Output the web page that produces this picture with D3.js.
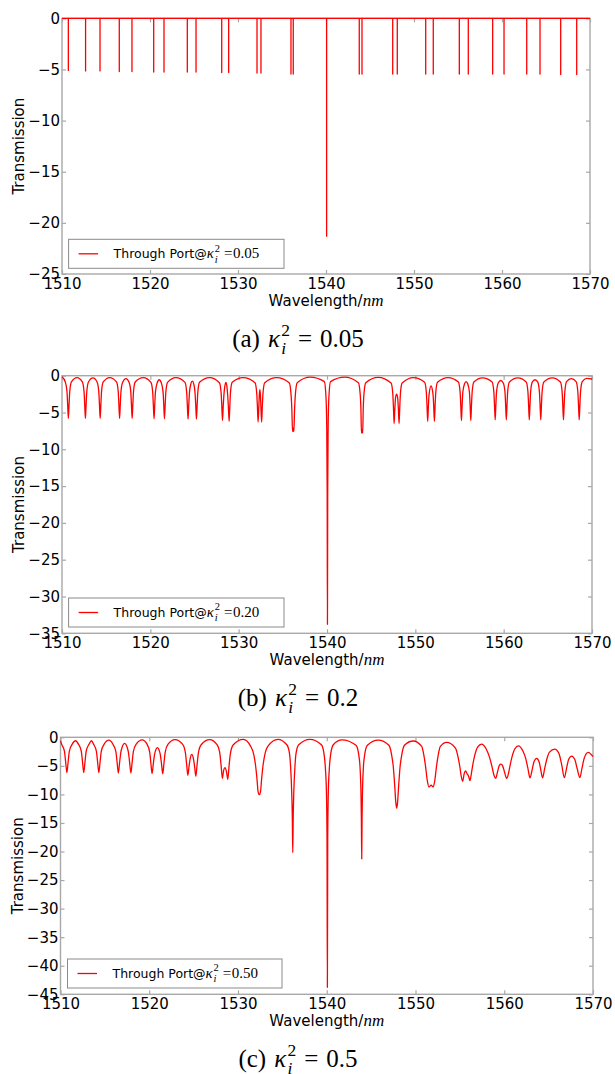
<!DOCTYPE html>
<html>
<head>
<meta charset="utf-8">
<script src="https://cdn.jsdelivr.net/npm/d3@7"></script>
<style>
  html, body { margin: 0; padding: 0; background: #fff; }
  svg { display: block; }
</style>
</head>
<body>
<script>
// ---------------- DATA ----------------
const xTicks = [1510, 1520, 1530, 1540, 1550, 1560, 1570];
const yTicksA = [0, -5, -10, -15, -20, -25];
const yTicksB = [0, -5, -10, -15, -20, -25, -30, -35];
const yTicksC = [0, -5, -10, -15, -20, -25, -30, -35, -40, -45];
const legendKappa = ["0.05", "0.20", "0.50"];
const captionLetter = ["(a)", "(b)", "(c)"];
const captionKappa = ["0.05", "0.2", "0.5"];

// Panel (a): resonance dips on a 0 dB baseline (wavelength nm, minimum dB)
const dipWlA = [1510.72, 1512.68, 1514.32, 1516.51, 1517.95, 1520.42, 1521.59, 1524.24, 1525.23, 1528.15,
                1528.94, 1532.16, 1532.61, 1536.02, 1536.28, 1540.07, 1543.78, 1544.09, 1547.58, 1548.10,
                1551.33, 1552.19, 1555.15, 1556.17, 1558.94, 1560.23, 1562.81, 1564.32, 1566.67, 1568.49];
const dipMinA = [-5.1, -5.15, -5.15, -5.2, -5.2, -5.25, -5.25, -5.25, -5.25, -5.3,
                 -5.3, -5.35, -5.35, -5.45, -5.45, -21.3, -5.45, -5.45, -5.45, -5.45,
                 -5.45, -5.45, -5.45, -5.45, -5.45, -5.45, -5.45, -5.45, -5.5, -5.5];
const baselineA = 0;

// Panel (b): traced curve points [wavelength, transmission dB]
const curveB = [
 [1510,-0.15],
 [1510.37,-0.85],[1510.56,-2.1],[1510.64,-3.9],[1510.72,-5.8],[1510.8,-3.9],[1510.88,-2.1],[1511.07,-0.85],
 [1511.7,-0.27],
 [1512.3,-0.85],[1512.49,-2.1],[1512.57,-3.9],[1512.65,-5.8],[1512.73,-3.9],[1512.81,-2.1],[1513.0,-0.85],
 [1513.5,-0.3],
 [1513.97,-0.85],[1514.16,-2.1],[1514.24,-3.9],[1514.32,-5.8],[1514.4,-3.9],[1514.48,-2.1],[1514.67,-0.85],
 [1515.4,-0.25],
 [1516.17,-0.85],[1516.36,-2.1],[1516.44,-3.9],[1516.52,-5.8],[1516.6,-3.9],[1516.68,-2.1],[1516.87,-0.9],
 [1517.23,-0.4],
 [1517.59,-0.9],[1517.78,-2.1],[1517.86,-3.9],[1517.94,-5.8],[1518.02,-3.9],[1518.1,-2.1],[1518.29,-0.85],
 [1519.2,-0.25],
 [1520.07,-0.9],[1520.26,-2.15],[1520.34,-3.95],[1520.42,-5.85],[1520.5,-3.95],[1520.58,-2.2],[1520.77,-1.0],
 [1521.01,-0.55],
 [1521.25,-1.0],[1521.44,-2.2],[1521.52,-3.95],[1521.6,-5.85],[1521.68,-3.95],[1521.76,-2.15],[1521.95,-0.9],
 [1522.9,-0.25],
 [1523.92,-0.9],[1524.11,-2.2],[1524.19,-4.0],[1524.27,-5.9],[1524.35,-4.0],[1524.43,-2.3],[1524.58,-1.15],
 [1524.75,-0.75],
 [1524.92,-1.15],[1525.06,-2.3],[1525.14,-4.0],[1525.22,-5.9],[1525.3,-4.0],[1525.38,-2.2],[1525.57,-0.9],
 [1526.7,-0.25],
 [1527.82,-0.95],[1528.01,-2.3],[1528.09,-4.1],[1528.17,-6.1],[1528.25,-4.2],[1528.33,-2.6],[1528.45,-1.3],
 [1528.55,-0.9],
 [1528.65,-1.3],[1528.76,-2.7],[1528.84,-4.3],[1528.92,-6.2],[1529.0,-4.1],[1529.08,-2.2],[1529.27,-0.9],
 [1530.5,-0.25],
 [1531.85,-0.95],[1532.04,-2.3],[1532.12,-4.1],[1532.2,-6.3],[1532.28,-4.3],[1532.34,-2.6],[1532.4,-1.9],
 [1532.46,-2.6],[1532.52,-4.3],[1532.6,-6.3],[1532.68,-4.1],[1532.76,-2.3],[1532.95,-0.95],
 [1534.3,-0.25],
 [1535.72,-0.95],[1535.92,-2.4],[1536.02,-4.6],[1536.1,-7.6],[1536.17,-7.1],[1536.25,-7.6],[1536.33,-4.6],[1536.43,-2.4],[1536.63,-0.95],
 [1538.1,-0.2],
 [1539.7,-0.8],[1539.89,-3.0],[1539.97,-7.0],[1540.02,-16],[1540.05,-33.8],[1540.08,-16],[1540.13,-7.0],[1540.21,-3.0],[1540.4,-0.8],
 [1542.0,-0.2],
 [1543.55,-0.95],[1543.75,-2.4],[1543.84,-4.6],[1543.9,-7.8],[1543.97,-7.3],[1544.04,-7.8],[1544.1,-4.6],[1544.19,-2.4],[1544.39,-0.95],
 [1545.8,-0.22],
 [1547.25,-1.0],[1547.44,-2.3],[1547.52,-4.2],[1547.6,-6.5],[1547.68,-4.5],[1547.76,-3.0],[1547.88,-2.5],
 [1548.0,-3.0],[1548.08,-4.5],[1548.16,-6.5],[1548.24,-4.2],[1548.32,-2.3],[1548.51,-1.0],
 [1549.8,-0.25],
 [1551.05,-0.9],[1551.24,-2.2],[1551.32,-4.0],[1551.4,-6.2],[1551.48,-4.1],[1551.56,-2.5],[1551.78,-1.4],
 [1552.0,-2.5],[1552.08,-4.1],[1552.16,-6.2],[1552.24,-4.0],[1552.32,-2.2],[1552.51,-0.9],
 [1553.7,-0.25],
 [1554.87,-0.85],[1555.06,-2.1],[1555.14,-3.9],[1555.22,-6.1],[1555.3,-3.95],[1555.38,-2.2],[1555.57,-1.1],[1555.75,-0.8],
 [1555.93,-1.1],[1556.12,-2.2],[1556.2,-3.95],[1556.28,-6.1],[1556.36,-3.9],[1556.44,-2.1],[1556.63,-0.85],
 [1557.6,-0.3],
 [1558.69,-0.85],[1558.88,-2.1],[1558.96,-3.9],[1559.04,-6.0],[1559.12,-3.9],[1559.2,-2.1],[1559.4,-0.95],[1559.67,-0.65],
 [1559.94,-0.95],[1560.14,-2.1],[1560.22,-3.9],[1560.3,-6.0],[1560.38,-3.9],[1560.46,-2.1],[1560.65,-0.85],
 [1561.6,-0.3],
 [1562.55,-0.85],[1562.74,-2.1],[1562.82,-3.9],[1562.9,-6.0],[1562.98,-3.9],[1563.06,-2.1],[1563.25,-0.85],[1563.55,-0.55],
 [1563.85,-0.85],[1564.04,-2.1],[1564.12,-3.9],[1564.2,-6.0],[1564.28,-3.9],[1564.36,-2.1],[1564.55,-0.85],
 [1565.5,-0.3],
 [1566.42,-0.85],[1566.61,-2.1],[1566.69,-3.9],[1566.77,-6.0],[1566.85,-3.9],[1566.93,-2.1],[1567.12,-0.8],[1567.66,-0.4],
 [1568.2,-0.8],[1568.39,-2.1],[1568.47,-3.9],[1568.55,-6.0],[1568.63,-3.9],[1568.71,-2.1],[1568.9,-0.8],
 [1569.4,-0.35],[1570,-0.45]
];

// Panel (c): traced curve points [wavelength, transmission dB]
const curveC = [
 [1510,-0.6],
 [1510.12,-1.2],[1510.44,-2.4],[1510.58,-4.3],[1510.72,-6.2],[1510.86,-4.3],[1511.0,-2.4],[1511.32,-1.2],
 [1511.7,-0.6],
 [1512.02,-1.2],[1512.34,-2.4],[1512.48,-4.3],[1512.62,-6.2],[1512.76,-4.3],[1512.9,-2.4],[1513.22,-1.2],
 [1513.5,-0.6],
 [1513.72,-1.2],[1514.04,-2.4],[1514.18,-4.3],[1514.32,-6.2],[1514.46,-4.3],[1514.6,-2.4],[1514.92,-1.2],
 [1515.45,-0.5],
 [1515.92,-1.25],[1516.24,-2.5],[1516.38,-4.4],[1516.52,-6.25],[1516.66,-4.4],[1516.8,-2.6],[1517.0,-1.5],
 [1517.22,-1.06],
 [1517.45,-1.5],[1517.65,-2.6],[1517.79,-4.4],[1517.93,-6.25],[1518.07,-4.4],[1518.21,-2.5],[1518.53,-1.2],
 [1519.2,-0.45],
 [1519.75,-1.2],[1520.05,-2.6],[1520.18,-4.5],[1520.32,-6.35],[1520.46,-4.6],[1520.6,-3.0],[1520.78,-2.05],
 [1520.92,-1.8],
 [1521.06,-2.05],[1521.24,-3.0],[1521.38,-4.6],[1521.52,-6.4],[1521.66,-4.5],[1521.8,-2.6],[1522.12,-1.2],
 [1522.9,-0.4],
 [1523.75,-1.2],[1524.07,-2.7],[1524.21,-4.7],[1524.35,-6.65],[1524.49,-5.0],[1524.63,-3.6],
 [1524.8,-3.0],
 [1524.97,-3.7],[1525.11,-5.1],[1525.25,-6.8],[1525.39,-4.8],[1525.53,-2.8],[1525.85,-1.3],
 [1526.8,-0.4],
 [1527.64,-1.3],[1527.96,-2.9],[1528.1,-5.0],[1528.24,-7.2],[1528.38,-5.8],
 [1528.54,-5.3],
 [1528.7,-6.0],[1528.85,-7.35],[1528.99,-5.1],[1529.13,-3.0],[1529.45,-1.35],
 [1530.6,-0.35],
 [1531.4,-1.5],[1531.8,-3.2],[1532.0,-5.2],[1532.15,-7.5],[1532.27,-9.6],[1532.4,-10.05],[1532.53,-9.6],[1532.65,-7.5],[1532.8,-5.2],[1533.0,-3.2],[1533.4,-1.5],
 [1534.5,-0.35],
 [1535.5,-1.3],[1535.8,-2.8],[1535.92,-5],[1536.06,-10],[1536.12,-14],[1536.17,-20.2],[1536.22,-14],[1536.28,-10],[1536.42,-5],[1536.54,-2.8],[1536.84,-1.3],
 [1538.1,-0.35],
 [1539.4,-1.3],[1539.7,-3.0],[1539.85,-5.5],[1539.97,-10],[1540.03,-18],[1540.07,-43.8],[1540.11,-18],[1540.17,-10],[1540.29,-5.5],[1540.44,-3.0],[1540.74,-1.3],
 [1541.7,-0.45],
 [1543.3,-1.4],[1543.6,-3.0],[1543.76,-5.5],[1543.86,-10],[1543.9,-14],[1543.94,-21.3],[1543.98,-14],[1544.02,-10],[1544.12,-5.5],[1544.28,-3.0],[1544.58,-1.4],
 [1545.8,-0.5],
 [1547.0,-1.4],[1547.3,-3.0],[1547.5,-5.2],[1547.66,-8.5],[1547.78,-11.4],[1547.88,-12.4],[1547.98,-11.4],[1548.1,-8.5],[1548.26,-5.2],[1548.46,-3.0],[1548.76,-1.4],
 [1549.75,-0.65],
 [1550.7,-1.6],[1550.95,-3.2],[1551.15,-5.3],[1551.33,-7.6],[1551.52,-8.7],[1551.76,-8.4],[1552.0,-8.7],[1552.17,-7.6],[1552.35,-5.3],[1552.55,-3.2],[1552.8,-1.6],
 [1553.5,-0.9],
 [1554.5,-1.9],[1554.8,-3.5],[1555.0,-5.2],[1555.15,-6.8],[1555.31,-7.7],[1555.48,-6.4],[1555.65,-5.9],[1555.82,-6.4],[1555.98,-6.8],[1556.14,-7.6],
 [1556.3,-6.3],[1556.48,-4.6],[1556.7,-3.0],[1557.0,-1.7],
 [1557.45,-1.2],
 [1557.95,-2.0],[1558.3,-3.3],[1558.6,-5.0],[1558.85,-6.7],[1559.03,-7.2],[1559.25,-6.0],[1559.45,-4.9],[1559.63,-4.7],[1559.82,-5.0],
 [1560.05,-6.2],[1560.27,-7.2],[1560.45,-6.5],[1560.7,-4.6],[1560.95,-3.0],[1561.2,-2.0],
 [1561.6,-1.5],
 [1562.1,-2.4],[1562.4,-3.6],[1562.65,-5.3],[1562.9,-7.1],[1563.1,-6.0],[1563.35,-4.3],[1563.65,-3.7],[1563.95,-4.4],[1564.15,-6.0],
 [1564.32,-7.1],[1564.55,-5.5],[1564.8,-3.8],[1565.1,-2.6],
 [1565.7,-2.06],
 [1566.15,-2.8],[1566.45,-4.6],[1566.77,-7.06],[1567.0,-5.6],[1567.25,-3.9],[1567.59,-3.3],[1567.95,-3.9],[1568.22,-5.5],
 [1568.52,-7.06],[1568.75,-5.5],[1569.0,-3.7],[1569.46,-2.65],[1570,-3.4]
];

// ---------------- DRAWING ----------------
const W = 615, H = 1074;
const svg = d3.select("body").append("svg").attr("width", W).attr("height", H)
  .attr("viewBox", `0 0 ${W} ${H}`);
svg.append("rect").attr("width", W).attr("height", H).attr("fill", "#fff");

const SANS = "'DejaVu Sans', sans-serif";
const SERIF = "'Liberation Serif', 'DejaVu Serif', serif";
const FRAME = "#a8a8a8";

// build panel (a) path points from dips on its baseline
const pointsA = [[1510, baselineA]];
dipWlA.forEach((w, i) => { pointsA.push([w, baselineA], [w, dipMinA[i]], [w, baselineA]); });
pointsA.push([1570, baselineA]);

const panels = [
  { left: 62, right: 590, top: 18.3, bottom: 274, yMin: -25, yTicks: yTicksA, data: pointsA, curve: d3.curveLinear,
    leg: { x: 68.6, y: 239.3, w: 215.4, h: 29 }, ylabX: 19 },
  { left: 62, right: 592, top: 375.7, bottom: 633.3, yMin: -35, yTicks: yTicksB, data: curveB, curve: d3.curveMonotoneX,
    leg: { x: 68.6, y: 598, w: 215.4, h: 29 }, ylabX: 19 },
  { left: 60.5, right: 593, top: 737.3, bottom: 994.3, yMin: -45, yTicks: yTicksC, data: curveC, curve: d3.curveMonotoneX,
    leg: { x: 67.5, y: 959, w: 214.5, h: 29 }, ylabX: 17.5 }
];

function kappaText(sel, fs, value, eqText, lead, eqGap) {
  // κ_i^2 with stacked sub/superscript, then "= value"
  sel.append("tspan").attr("font-family", SERIF).attr("font-style", "italic").attr("font-size", fs)
    .attr("dx", lead).text("κ");
  const sup = sel.append("tspan").attr("font-family", SERIF).attr("font-size", fs * 0.7)
    .attr("dx", fs * 0.05).attr("dy", -fs * 0.45).text("2");
  const supW = sup.node().getComputedTextLength();
  const sub = sel.append("tspan").attr("font-family", SERIF).attr("font-style", "italic")
    .attr("font-size", fs * 0.7).attr("dx", -supW).attr("dy", fs * 0.45 + fs * 0.28).text("i");
  const subW = sub.node().getComputedTextLength();
  sel.append("tspan").attr("font-family", SERIF).attr("font-size", fs).attr("dy", -fs * 0.28)
    .attr("dx", Math.max(0, supW - subW) + eqGap[0]).text(eqText);
  sel.append("tspan").attr("font-family", SERIF).attr("font-size", fs)
    .attr("dx", eqGap[1]).text(value);
}

panels.forEach((p, idx) => {
  const g = svg.append("g");
  const x = d3.scaleLinear().domain([1510, 1570]).range([p.left, p.right]);
  const y = d3.scaleLinear().domain([p.yMin, 0]).range([p.bottom, p.top]);

  // frame
  g.append("rect").attr("x", p.left).attr("y", p.top)
    .attr("width", p.right - p.left).attr("height", p.bottom - p.top)
    .attr("fill", "none").attr("stroke", FRAME).attr("stroke-width", 1.4);

  // axes (ticks pointing inward)
  const fmt = d3.format("d");
  const axB = g.append("g").attr("transform", `translate(0,${p.bottom})`)
    .call(d3.axisBottom(x).tickValues(xTicks).tickSize(-4).tickPadding(4).tickFormat(fmt));
  const axT = g.append("g").attr("transform", `translate(0,${p.top})`)
    .call(d3.axisTop(x).tickValues(xTicks).tickSize(-4).tickFormat(""));
  const axL = g.append("g").attr("transform", `translate(${p.left},0)`)
    .call(d3.axisLeft(y).tickValues(p.yTicks).tickSize(-4).tickPadding(2).tickFormat(d3.format("d")));
  const axR = g.append("g").attr("transform", `translate(${p.right},0)`)
    .call(d3.axisRight(y).tickValues(p.yTicks).tickSize(-4).tickFormat(""));
  [axB, axT, axL, axR].forEach(a => {
    a.select(".domain").remove();
    a.selectAll(".tick line").attr("stroke", FRAME).attr("stroke-width", 1.2);
    a.selectAll(".tick text").attr("font-family", SANS).attr("font-size", 15).attr("fill", "#000");
  });

  // curve
  const line = d3.line().x(d => x(d[0])).y(d => y(d[1])).curve(p.curve);
  g.append("path").datum(p.data).attr("d", line)
    .attr("fill", "none").attr("stroke", "#ff0000").attr("stroke-width", 1.3)
    .attr("stroke-linejoin", "round");

  // legend
  const L = p.leg;
  g.append("rect").attr("x", L.x).attr("y", L.y).attr("width", L.w).attr("height", L.h)
    .attr("fill", "#fff").attr("stroke", "#8a8a8a").attr("stroke-width", 1);
  g.append("line").attr("x1", L.x + 10).attr("x2", L.x + 29.5)
    .attr("y1", L.y + L.h / 2).attr("y2", L.y + L.h / 2)
    .attr("stroke", "#ff0000").attr("stroke-width", 1.3);
  const lt = g.append("text").attr("x", L.x + 45).attr("y", L.y + L.h / 2 + 4.5)
    .attr("font-family", SANS).attr("font-size", 12.5).attr("fill", "#000");
  lt.append("tspan").text("Through Port@");
  kappaText(lt, 15, legendKappa[idx], "=", 0, [4, 0.5]);

  // x label
  const xl = g.append("text").attr("x", 0).attr("y", p.bottom + 31.5)
    .attr("font-family", SANS).attr("font-size", 15).attr("fill", "#000");
  xl.append("tspan").text("Wavelength/");
  xl.append("tspan").attr("font-family", SERIF).attr("font-style", "italic").attr("font-size", 17).text("nm");
  const xlW = xl.node().getBBox().width;
  xl.attr("x", (p.left + p.right) / 2 - xlW / 2);

  // y label
  g.append("text").attr("transform", `translate(${p.ylabX},${(p.top + p.bottom) / 2}) rotate(-90)`)
    .attr("text-anchor", "middle").attr("dy", "0.36em")
    .attr("font-family", SANS).attr("font-size", 15).attr("fill", "#000").text("Transmission");

  // caption
  const cg = g.append("g");
  const ct = cg.append("text").attr("x", 0).attr("y", 0)
    .attr("font-family", SERIF).attr("font-size", 25).attr("fill", "#000");
  ct.append("tspan").text(captionLetter[idx]);
  kappaText(ct, 25, captionKappa[idx], "=", 8, [8, 8]);
  const cw = ct.node().getBBox().width;
  cg.attr("transform", `translate(${298 - cw / 2},${p.bottom + 73})`);
});
</script>
</body>
</html>
